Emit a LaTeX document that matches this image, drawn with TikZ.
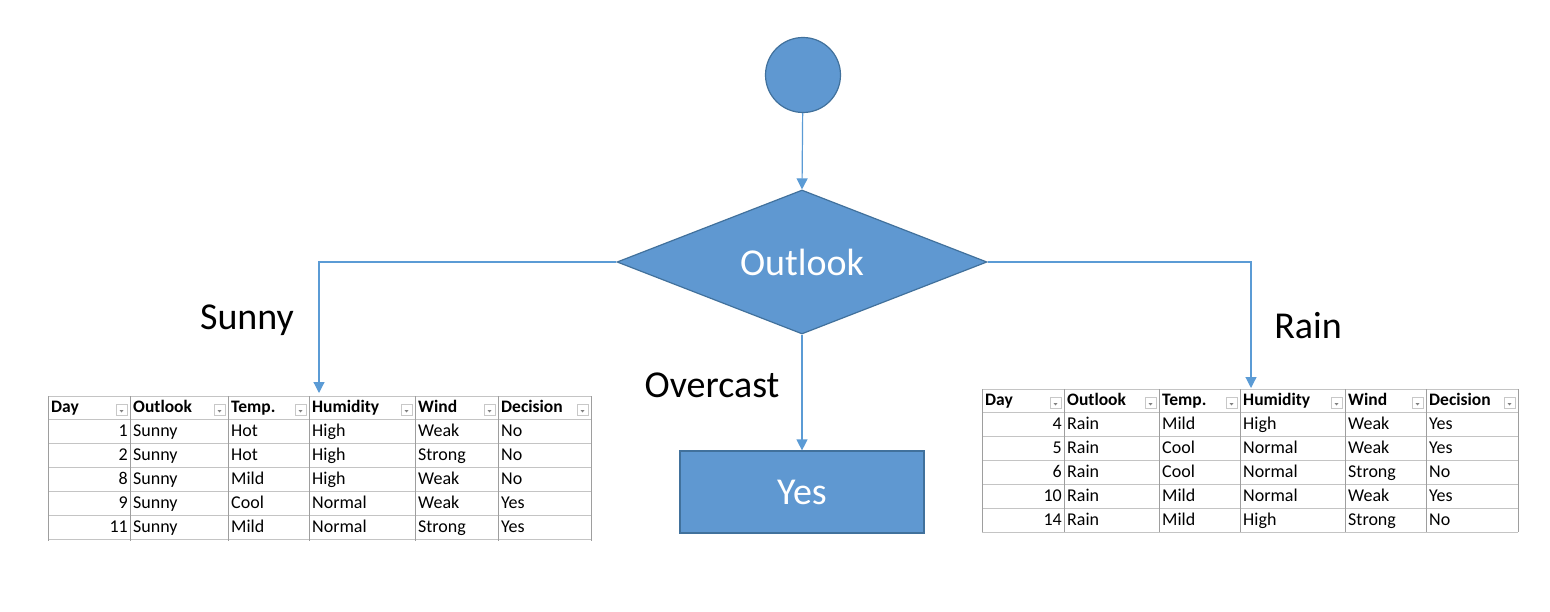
\documentclass[tikz,border=0pt]{standalone}
\usepackage{fontspec}
\setmainfont{Carlito}
\usetikzlibrary{shapes.geometric,arrows.meta}
\definecolor{fillblue}{HTML}{5F98D1}
\definecolor{edgeblue}{HTML}{41719C}
\definecolor{linkblue}{HTML}{5B9BD5}
\definecolor{gridgray}{HTML}{9E9E9E}
\definecolor{hgray}{HTML}{C4C4C4}
\definecolor{btngray}{HTML}{C8C8C8}
\newcommand\setcols[7]{\def\cA{#1}\def\cB{#2}\def\cC{#3}\def\cD{#4}\def\cE{#5}\def\cF{#6}\def\cG{#7}}
\newcommand\tabrow[8]{%
  \node[cellr] (#1-1) at (\cB-2,#2) {#3};
  \node[cell] (#1-2) at (\cB+3,#2) {#4};
  \node[cell] (#1-3) at (\cC+3,#2) {#5};
  \node[cell] (#1-4) at (\cD+3,#2) {#6};
  \node[cell] (#1-5) at (\cE+3,#2) {#7};
  \node[cell] (#1-6) at (\cF+3,#2) {#8};
}
\newcommand\tabhead[2]{%
  \node[hcell] (#1-1) at (\cA+3,#2) {Day};
  \node[hcell] (#1-2) at (\cB+3,#2) {Outlook};
  \node[hcell] (#1-3) at (\cC+3,#2) {Temp.};
  \node[hcell] (#1-4) at (\cD+3,#2) {Humidity};
  \node[hcell] (#1-5) at (\cE+3,#2) {Wind};
  \node[hcell] (#1-6) at (\cF+3,#2) {Decision};
  \foreach \c in {\cB,\cC,\cD,\cE,\cF,\cG}{%
    \draw[btnbox] (\c-14,#2-4) rectangle (\c-3,#2+7);
    \fill[gray] (\c-10.5,#2+1.5) -- (\c-6.5,#2+1.5) -- (\c-8.5,#2+4) -- cycle;
  }
}
\begin{document}
\begin{tikzpicture}[x=1pt,y=-1pt,
  conn/.style={draw=linkblue, line width=1.2pt, -{Triangle[width=11pt,length=11pt]}},
  shapebox/.style={fill=fillblue, draw=edgeblue, line width=1.2pt},
  lbl/.style={font=\fontsize{38}{44}\selectfont, text=black},
  wlbl/.style={font=\fontsize{38}{44}\selectfont, text=white},
  cell/.style={anchor=west, inner sep=0pt, text height=12pt, text depth=4pt, font=\fontsize{18}{20}\selectfont},
  cellr/.style={cell, anchor=east},
  hcell/.style={cell, font=\fontsize{17.5}{20}\selectfont\bfseries},
  gridv/.style={draw=gridgray, line width=0.9pt},
  gridh/.style={draw=hgray, line width=0.9pt},
  btnbox/.style={draw=btngray, fill=white, line width=0.6pt}
]
\useasboundingbox (0,0) rectangle (1550,612);
\fill[white] (0,0) rectangle (1550,612);

% flowchart shapes
\node[circle, shapebox, minimum size=75pt, inner sep=0pt] (start) at (803,75) {};
\node[diamond, shapebox, minimum width=370pt, minimum height=144pt, aspect=2.57, inner sep=0pt, wlbl] (dec) at (802,262) {Outlook};
\node[rectangle, shapebox, minimum width=244pt, minimum height=82pt, inner sep=0pt, wlbl] (yes) at (802,492) {Yes};

\coordinate (sunnytip) at (319,393);
\coordinate (raintip) at (1251,388);

\draw[conn] (start) -- (dec.north);
\draw[conn] (dec.west) -| (sunnytip);
\draw[conn] (dec.east) -| (raintip);
\draw[conn] (dec.south) -- (yes.north);

\node[lbl] (sunny) at (247,320) {Sunny};
\node[lbl] (overcast) at (712,385) {Overcast};
\node[lbl] (rain) at (1308,326) {Rain};

% left table
\setcols{48}{130}{228}{309}{415}{498}{591}
\foreach \y in {396,419,443,467,491,515,539} \draw[gridh] (\cA,\y) -- (\cG,\y);
\foreach \x in {\cA,\cB,\cC,\cD,\cE,\cF,\cG} \draw[gridv] (\x,396) -- (\x,541);
\tabhead{LH}{408.5}
\tabrow{L1}{432.5}{1}{Sunny}{Hot}{High}{Weak}{No}
\tabrow{L2}{456.5}{2}{Sunny}{Hot}{High}{Strong}{No}
\tabrow{L3}{480.5}{8}{Sunny}{Mild}{High}{Weak}{No}
\tabrow{L4}{504.5}{9}{Sunny}{Cool}{Normal}{Weak}{Yes}
\tabrow{L5}{528.5}{11}{Sunny}{Mild}{Normal}{Strong}{Yes}

% right table
\setcols{982}{1064}{1159}{1240}{1345}{1426}{1518}
\foreach \y in {389,412,436,460,484,508,532} \draw[gridh] (\cA,\y) -- (\cG,\y);
\foreach \x in {\cA,\cB,\cC,\cD,\cE,\cF,\cG} \draw[gridv] (\x,389) -- (\x,532);
\tabhead{RH}{401.5}
\tabrow{R1}{425.5}{4}{Rain}{Mild}{High}{Weak}{Yes}
\tabrow{R2}{449.5}{5}{Rain}{Cool}{Normal}{Weak}{Yes}
\tabrow{R3}{473.5}{6}{Rain}{Cool}{Normal}{Strong}{No}
\tabrow{R4}{497.5}{10}{Rain}{Mild}{Normal}{Weak}{Yes}
\tabrow{R5}{521.5}{14}{Rain}{Mild}{High}{Strong}{No}
\end{tikzpicture}
\end{document}
